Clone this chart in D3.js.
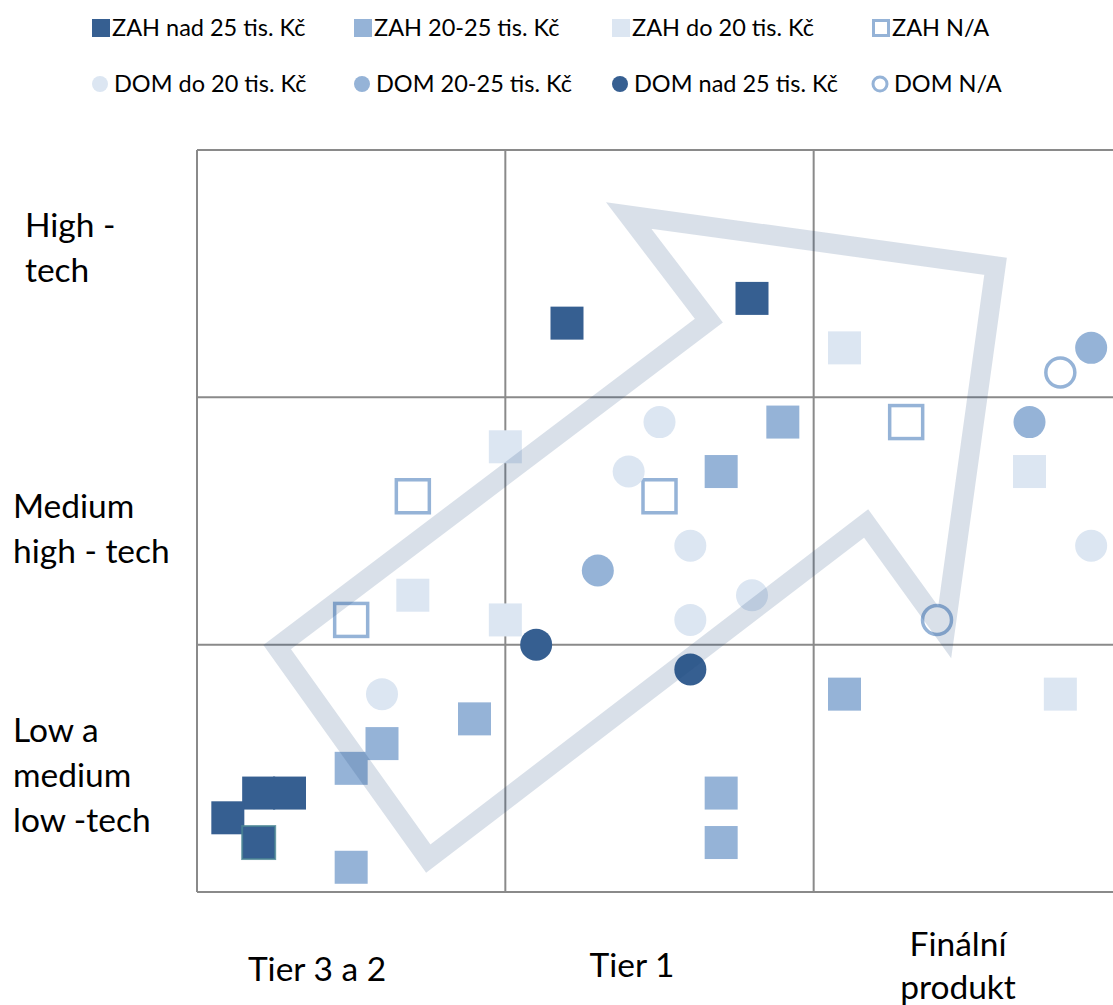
<!DOCTYPE html>
<html>
<head>
<meta charset="utf-8">
<script src="https://cdn.jsdelivr.net/npm/d3@7"></script>
<style>
  html, body { margin: 0; padding: 0; background: #fff; }
  svg { display: block; }
  text { font-family: Lato, "Open Sans", sans-serif; fill: #000; }
</style>
</head>
<body>
<svg id="chart" width="1113" height="1005"></svg>
<script>
// Positions on a 0–30 grid (10 steps per column / row)
const zahNad25   = [[12,23],[18,24],[2,4],[3,4],[1,3],[2,2]];
const zah20_25   = [[19,19],[17,17],[9,7],[6,6],[5,5],[17,4],[17,2],[5,1],[21,8]];
const zahDo20    = [[21,22],[10,18],[7,12],[10,11],[27,17],[28,8]];
const zahNA      = [[7,16],[15,16],[23,19],[5,11]];
const domDo20    = [[15,19],[14,17],[16,14],[16,11],[18,12],[6,8],[29,14]];
const dom20_25   = [[13,13],[27,19],[29,22]];
const domNad25   = [[11,10],[16,9]];
const domNA      = [[28,21],[24,11]];

// Arrow outline (same grid units)
const arrowPath  = [[2.6,9.9],[7.5,1.35],[21.7,14.9],[24.25,10.5],[25.9,25.3],[14.0,27.35],[16.6,23.1]];

const columnLabels = [["Tier 3 a 2"],["Tier 1"],["Finální","produkt"]];
const rowLabels    = [["High -","tech"],["Medium","high - tech"],["Low a","medium","low -tech"]];

const legendRow1 = ["ZAH nad 25 tis. Kč","ZAH 20-25 tis. Kč","ZAH do 20 tis. Kč","ZAH N/A"];
const legendRow2 = ["DOM do 20 tis. Kč","DOM 20-25 tis. Kč","DOM nad 25 tis. Kč","DOM N/A"];

const DARK = "#365f91", MED = "#95b3d7", LIGHT = "#dce6f2";

const svg = d3.select("#chart");
const x = d3.scaleLinear().domain([0, 30]).range([197, 1122]);
const y = d3.scaleLinear().domain([0, 30]).range([892, 150]);

// grid
const grid = svg.append("g").attr("stroke", "#8a8a8a").attr("stroke-width", 2).attr("fill", "none");
[0, 10, 20, 30].forEach(v => {
  grid.append("line").attr("x1", x(v)).attr("x2", x(v)).attr("y1", y(0)).attr("y2", y(30));
  grid.append("line").attr("x1", x(0)).attr("x2", x(30)).attr("y1", y(v)).attr("y2", y(v));
});

// markers
const S = 33, R = 16;
function squares(data, fill, stroke) {
  svg.append("g").selectAll("rect").data(data).join("rect")
    .attr("x", d => x(d[0]) - S / 2).attr("y", d => y(d[1]) - S / 2)
    .attr("width", S).attr("height", S)
    .attr("fill", fill)
    .attr("stroke", stroke || "none").attr("stroke-width", stroke ? 3.5 : 0);
}
function circles(data, fill, stroke) {
  svg.append("g").selectAll("circle").data(data).join("circle")
    .attr("cx", d => x(d[0])).attr("cy", d => y(d[1]))
    .attr("r", stroke ? R - 1.5 : R)
    .attr("fill", fill)
    .attr("stroke", stroke || "none").attr("stroke-width", stroke ? 3.5 : 0);
}
squares(zahDo20, LIGHT);
squares(zah20_25, MED);
squares(zahNad25, DARK);
squares(zahNA, "#fff", MED);
circles(domDo20, LIGHT);
circles(dom20_25, MED);
circles(domNad25, DARK);
circles(domNA, "none", MED);

// highlighted square with teal edge
svg.append("rect")
  .attr("x", x(2) - S / 2).attr("y", y(2) - S / 2).attr("width", S).attr("height", S)
  .attr("fill", "none").attr("stroke", "#4a8594").attr("stroke-width", 2).attr("stroke-opacity", 0.8);

// arrow
svg.append("path")
  .attr("d", d3.line().x(d => x(d[0])).y(d => y(d[1])).curve(d3.curveLinearClosed)(arrowPath))
  .attr("fill", "none").attr("stroke", "#1f497d").attr("stroke-opacity", 0.17)
  .attr("stroke-width", 20).attr("stroke-linejoin", "miter").attr("stroke-miterlimit", 10);

// row labels
const rowTop = [237, 518, 742];
rowLabels.forEach((lines, i) => {
  const t = svg.append("text").attr("font-size", 33.5);
  lines.forEach((l, j) => t.append("tspan").attr("x", i === 0 ? 25 : 13).attr("y", rowTop[i] + j * 45).text(l));
});

// column labels
const colBase = [[981], [977], [956, 999]];
columnLabels.forEach((lines, i) => {
  const t = svg.append("text").attr("font-size", 33.5).attr("text-anchor", "middle");
  const cx = i === 0 ? 317 : (i === 1 ? 632 : 958);
  lines.forEach((l, j) => t.append("tspan").attr("x", cx).attr("y", colBase[i][j]).text(l));
});

// legend
const lg = svg.append("g");
const lx1 = [92, 354, 612, 872];
legendRow1.forEach((label, i) => {
  if (i < 3) {
    lg.append("rect").attr("x", lx1[i]).attr("y", 19).attr("width", 18).attr("height", 18)
      .attr("fill", [DARK, MED, LIGHT][i]);
  } else {
    lg.append("rect").attr("x", lx1[i] + 1.5).attr("y", 20.5).attr("width", 15).attr("height", 15)
      .attr("fill", "#fff").attr("stroke", MED).attr("stroke-width", 3);
  }
  lg.append("text").attr("x", lx1[i] + 20).attr("y", 36).attr("font-size", 23.5).text(label);
});
const lx2 = [100, 362, 620, 880];
legendRow2.forEach((label, i) => {
  if (i < 3) {
    lg.append("circle").attr("cx", lx2[i]).attr("cy", 84).attr("r", 8)
      .attr("fill", [LIGHT, MED, DARK][i]);
  } else {
    lg.append("circle").attr("cx", lx2[i]).attr("cy", 84).attr("r", 7)
      .attr("fill", "none").attr("stroke", MED).attr("stroke-width", 3);
  }
  lg.append("text").attr("x", lx2[i] + 14).attr("y", 92).attr("font-size", 23.5).text(label);
});
</script>
</body>
</html>
